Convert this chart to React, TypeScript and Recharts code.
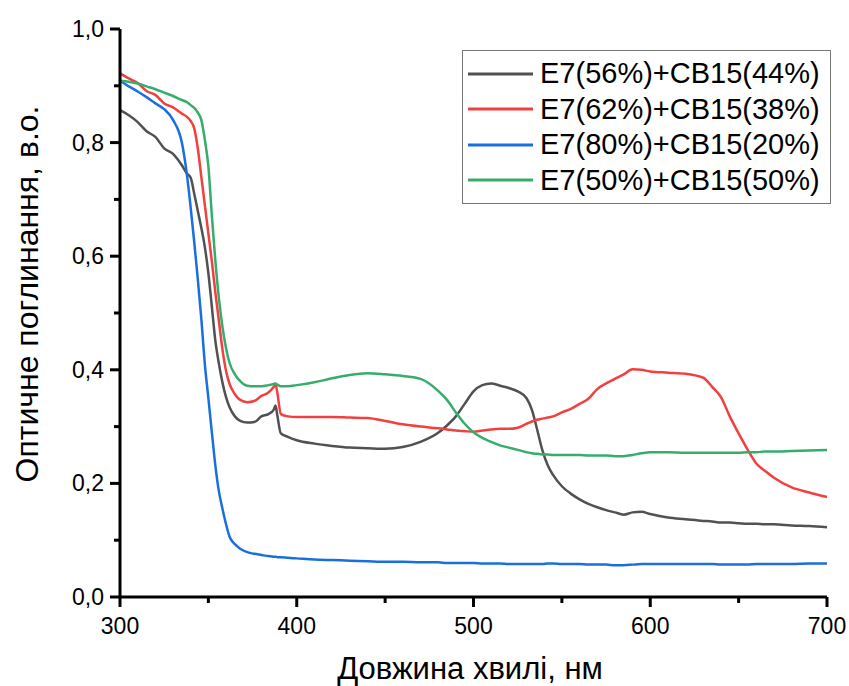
import React from 'react';
import { LineChart, Line, XAxis, YAxis, Label } from 'recharts';

const wavelength = [
  300, 305, 310, 315, 320, 325, 330, 335, 338, 340, 342, 344, 346, 348, 350, 352, 354, 356, 358, 360,
  362, 365, 368, 372, 376, 380, 384, 387, 388, 389, 391, 395, 400, 410, 420, 430, 440, 450, 460, 470,
  480, 485, 490, 495, 500, 505, 510, 515, 520, 525, 530, 533, 536, 539, 542, 545, 550, 555, 560, 565,
  570, 575, 580, 585, 590, 595, 600, 610, 620, 630, 635, 640, 645, 650, 655, 660, 665, 670, 680, 690, 700,
];

const e7_56 = [
  0.857, 0.848, 0.836, 0.82, 0.81, 0.79, 0.78, 0.76, 0.745, 0.738, 0.71, 0.68, 0.65, 0.616, 0.57, 0.51, 0.45, 0.41, 0.377, 0.352,
  0.334, 0.318, 0.31, 0.307, 0.308, 0.318, 0.322, 0.33, 0.337, 0.32, 0.288, 0.282, 0.276, 0.27, 0.266, 0.263, 0.262, 0.261, 0.264, 0.273,
  0.289, 0.302, 0.318, 0.34, 0.362, 0.373, 0.376, 0.372, 0.368, 0.362, 0.35, 0.33, 0.295, 0.258, 0.232, 0.215, 0.195, 0.182, 0.172, 0.164,
  0.158, 0.153, 0.149, 0.145, 0.149, 0.15, 0.146, 0.14, 0.137, 0.134, 0.133, 0.131, 0.131, 0.13, 0.129, 0.129, 0.128, 0.128, 0.126, 0.125, 0.123,
];

const e7_62 = [
  0.922, 0.913, 0.905, 0.891, 0.884, 0.869, 0.862, 0.851, 0.845, 0.838, 0.825, 0.79, 0.74, 0.69, 0.64, 0.59, 0.535, 0.485, 0.435, 0.398,
  0.375, 0.357, 0.347, 0.343, 0.345, 0.354, 0.36, 0.37, 0.374, 0.36, 0.322, 0.318, 0.317, 0.317, 0.317, 0.316, 0.315, 0.31, 0.304, 0.3,
  0.297, 0.295, 0.293, 0.292, 0.291, 0.293, 0.295, 0.296, 0.296, 0.298, 0.305, 0.309, 0.312, 0.314, 0.316, 0.318, 0.325, 0.331, 0.34, 0.349,
  0.366, 0.376, 0.384, 0.392, 0.401, 0.4, 0.397, 0.395, 0.393, 0.386, 0.37, 0.352, 0.318, 0.288, 0.26, 0.235, 0.222, 0.21, 0.193, 0.184, 0.176,
];

const e7_80 = [
  0.909, 0.899, 0.89, 0.88, 0.869, 0.859, 0.84, 0.8, 0.74, 0.685, 0.625, 0.56, 0.49, 0.41, 0.35, 0.289, 0.23, 0.185, 0.155, 0.128,
  0.106, 0.093, 0.085, 0.079, 0.076, 0.074, 0.072, 0.071, 0.071, 0.07, 0.07, 0.069, 0.068, 0.066, 0.065, 0.064, 0.063, 0.062, 0.062, 0.061,
  0.061, 0.06, 0.06, 0.06, 0.06, 0.059, 0.059, 0.059, 0.058, 0.058, 0.058, 0.058, 0.058, 0.058, 0.059, 0.059, 0.058, 0.058, 0.058, 0.057,
  0.057, 0.057, 0.056, 0.056, 0.057, 0.058, 0.058, 0.058, 0.058, 0.058, 0.058, 0.057, 0.057, 0.057, 0.057, 0.058, 0.058, 0.058, 0.058, 0.059, 0.059,
];

const e7_50 = [
  0.909, 0.907, 0.904, 0.899, 0.894, 0.888, 0.882, 0.875, 0.871, 0.866, 0.861, 0.853, 0.84, 0.805, 0.758, 0.67, 0.59, 0.525, 0.475, 0.438,
  0.412, 0.392, 0.38, 0.372, 0.371, 0.371, 0.373, 0.375, 0.376, 0.374, 0.371, 0.371, 0.373, 0.378, 0.385, 0.391, 0.394, 0.392, 0.389, 0.384,
  0.363, 0.347, 0.325, 0.305, 0.29, 0.28, 0.273, 0.267, 0.263, 0.259, 0.255, 0.253, 0.252, 0.251, 0.251, 0.25, 0.25, 0.25, 0.25, 0.249,
  0.249, 0.249, 0.248, 0.248, 0.25, 0.253, 0.255, 0.255, 0.254, 0.254, 0.254, 0.254, 0.254, 0.254, 0.255, 0.255, 0.256, 0.256, 0.257, 0.258, 0.259,
];

const xTicks = [300, 350, 400, 450, 500, 550, 600, 650, 700];
const yTicks = [0, 0.1, 0.2, 0.3, 0.4, 0.5, 0.6, 0.7, 0.8, 0.9, 1.0];

const series = [
  { key: 'a', name: 'E7(56%)+CB15(44%)', color: '#515151', values: e7_56 },
  { key: 'b', name: 'E7(62%)+CB15(38%)', color: '#F14040', values: e7_62 },
  { key: 'c', name: 'E7(80%)+CB15(20%)', color: '#1A6FDF', values: e7_80 },
  { key: 'd', name: 'E7(50%)+CB15(50%)', color: '#37AD6B', values: e7_50 },
];

const data = wavelength.map((w, i) => {
  const row: any = { w };
  series.forEach((s) => {
    row[s.key] = s.values[i];
  });
  return row;
});

const FONT = '"Liberation Sans", Arial, sans-serif';

const XTick = (props: any) => {
  const { x, y, payload } = props;
  const major = payload.value % 100 === 0;
  return (
    <g>
      <line x1={x} x2={x} y1={y} y2={y + (major ? 10 : 6)} stroke="#000" strokeWidth={3} />
      {major && (
        <text x={x} y={y + 37} textAnchor="middle" fontSize={23} fontFamily={FONT} fill="#000">
          {payload.value}
        </text>
      )}
    </g>
  );
};

const YTick = (props: any) => {
  const { x, y, payload } = props;
  const v = Math.round(payload.value * 10);
  const major = v % 2 === 0;
  return (
    <g>
      <line x1={x} x2={x - (major ? 10 : 6)} y1={y} y2={y} stroke="#000" strokeWidth={3} />
      {major && (
        <text x={x - 16} y={y + 8} textAnchor="end" fontSize={23} fontFamily={FONT} fill="#000">
          {(v / 10).toFixed(1).replace('.', ',')}
        </text>
      )}
    </g>
  );
};

// legend drawn as a plain box over the chart so it doesn't shrink the plot
const LegendBox = () => (
  <div
    style={{
      position: 'absolute',
      left: 462,
      top: 50,
      width: 367,
      height: 147,
      border: '1px solid #777',
      background: '#fff',
      fontFamily: FONT,
      fontSize: 29,
      color: '#000',
      paddingTop: 5,
    }}
  >
    {series.map((s) => (
      <div key={s.key} style={{ display: 'flex', alignItems: 'center', height: 35.5 }}>
        <svg width={75} height={10} style={{ flex: 'none' }}>
          <line x1={5} x2={70} y1={5} y2={5} stroke={s.color} strokeWidth={3} />
        </svg>
        <span style={{ whiteSpace: 'nowrap', marginLeft: 2 }}>{s.name}</span>
      </div>
    ))}
  </div>
);

export default function App() {
  return (
    <div style={{ position: 'absolute', left: 0, top: 0, width: 849, height: 686, background: '#fff' }}>
      <LineChart
        width={849}
        height={686}
        data={data}
        margin={{ top: 29, right: 22, bottom: 49, left: 60 }}
      >
        <XAxis
          dataKey="w"
          type="number"
          domain={[300, 700]}
          ticks={xTicks}
          interval={0}
          height={40}
          axisLine={{ stroke: '#000', strokeWidth: 3 }}
          tickLine={false}
          tickSize={0}
          tickMargin={0}
          tick={(p: any) => <XTick {...p} />}
        >
          <Label
            content={() => (
              <text x={470} y={679} textAnchor="middle" fontSize={31} fontFamily={FONT} fill="#000">
                Довжина хвилі, нм
              </text>
            )}
          />
        </XAxis>
        <YAxis
          type="number"
          domain={[0, 1]}
          ticks={yTicks}
          interval={0}
          width={60}
          axisLine={{ stroke: '#000', strokeWidth: 3 }}
          tickLine={false}
          tickSize={0}
          tickMargin={0}
          tick={(p: any) => <YTick {...p} />}
        >
          <Label
            content={() => (
              <text
                x={38}
                y={294}
                textAnchor="middle"
                fontSize={32}
                fontFamily={FONT}
                fill="#000"
                transform="rotate(-90 38 294)"
              >
                Оптичне поглинання, в.о.
              </text>
            )}
          />
        </YAxis>
        {series.map((s) => (
          <Line
            key={s.key}
            type="monotone"
            dataKey={s.key}
            name={s.name}
            stroke={s.color}
            strokeWidth={2.5}
            dot={false}
            isAnimationActive={false}
          />
        ))}
      </LineChart>
      <LegendBox />
    </div>
  );
}
